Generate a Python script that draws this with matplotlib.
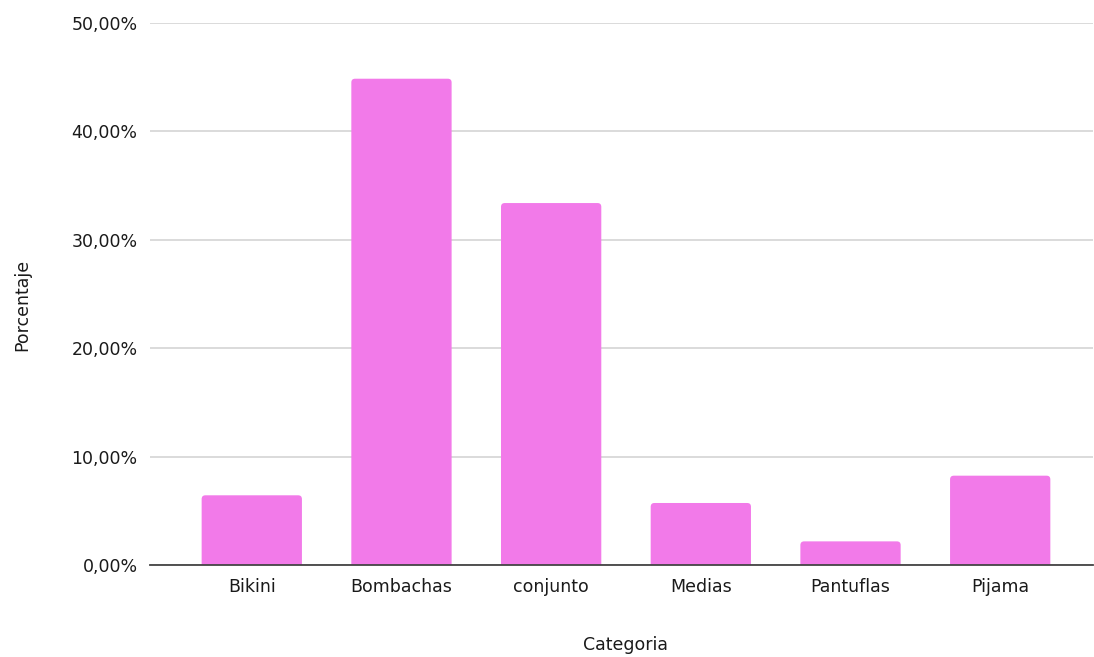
import matplotlib.pyplot as plt
from matplotlib.ticker import FuncFormatter
from matplotlib.patches import FancyBboxPatch

# Data
categorias = ['Bikini', 'Bombachas', 'conjunto', 'Medias', 'Pantuflas', 'Pijama']
porcentajes = [6.43, 44.86, 33.39, 5.72, 2.18, 8.24]

plt.rcParams['font.family'] = ['DejaVu Sans']

fig = plt.figure(figsize=(10.94, 6.57), dpi=100)
ax = fig.add_axes([150 / 1094, 1 - 565 / 657, 943 / 1094, (565 - 23) / 657])

x = range(len(categorias))
bars = ax.bar(x, porcentajes, width=0.67, color='#f27ae9', zorder=3)

ax.set_ylim(0, 50)
ax.set_xlim(-0.68, 5.62)

# rounded top corners like the original chart
aspect = (50 / 542) / (6.3 / 943)
for b in bars:
    bx, by, bw, bh = b.get_x(), b.get_y(), b.get_width(), b.get_height()
    b.remove()
    ax.add_patch(FancyBboxPatch((bx, by - 1), bw, bh + 1,
                                boxstyle='round,pad=0,rounding_size=0.025',
                                mutation_aspect=aspect, color='#f27ae9',
                                linewidth=0, zorder=3))

ax.set_yticks([0, 10, 20, 30, 40, 50])
ax.yaxis.set_major_formatter(FuncFormatter(lambda v, p: f'{v:.2f}%'.replace('.', ',')))
ax.set_xticks(list(x))
ax.set_xticklabels(categorias)

ax.grid(axis='y', color='#d4d4d4', linewidth=1.2, zorder=0)
for s in ['top', 'right', 'left']:
    ax.spines[s].set_visible(False)
ax.spines['bottom'].set_color('#444444')
ax.spines['bottom'].set_linewidth(1.3)
ax.spines['bottom'].set_zorder(4)

ax.tick_params(axis='y', length=0, pad=9, labelsize=12.5, labelcolor='#1a1a1a')
ax.tick_params(axis='x', length=0, pad=9, labelsize=12.5, labelcolor='#1a1a1a')

fig.text(22 / 1094, 1 - 305 / 657, 'Porcentaje', rotation=90, ha='center', va='center',
         fontsize=12.5, color='#1a1a1a')
fig.text(626 / 1094, 1 - 645 / 657, 'Categoria', ha='center', va='center',
         fontsize=12.5, color='#1a1a1a')

fig.savefig('out.png', dpi=100)
